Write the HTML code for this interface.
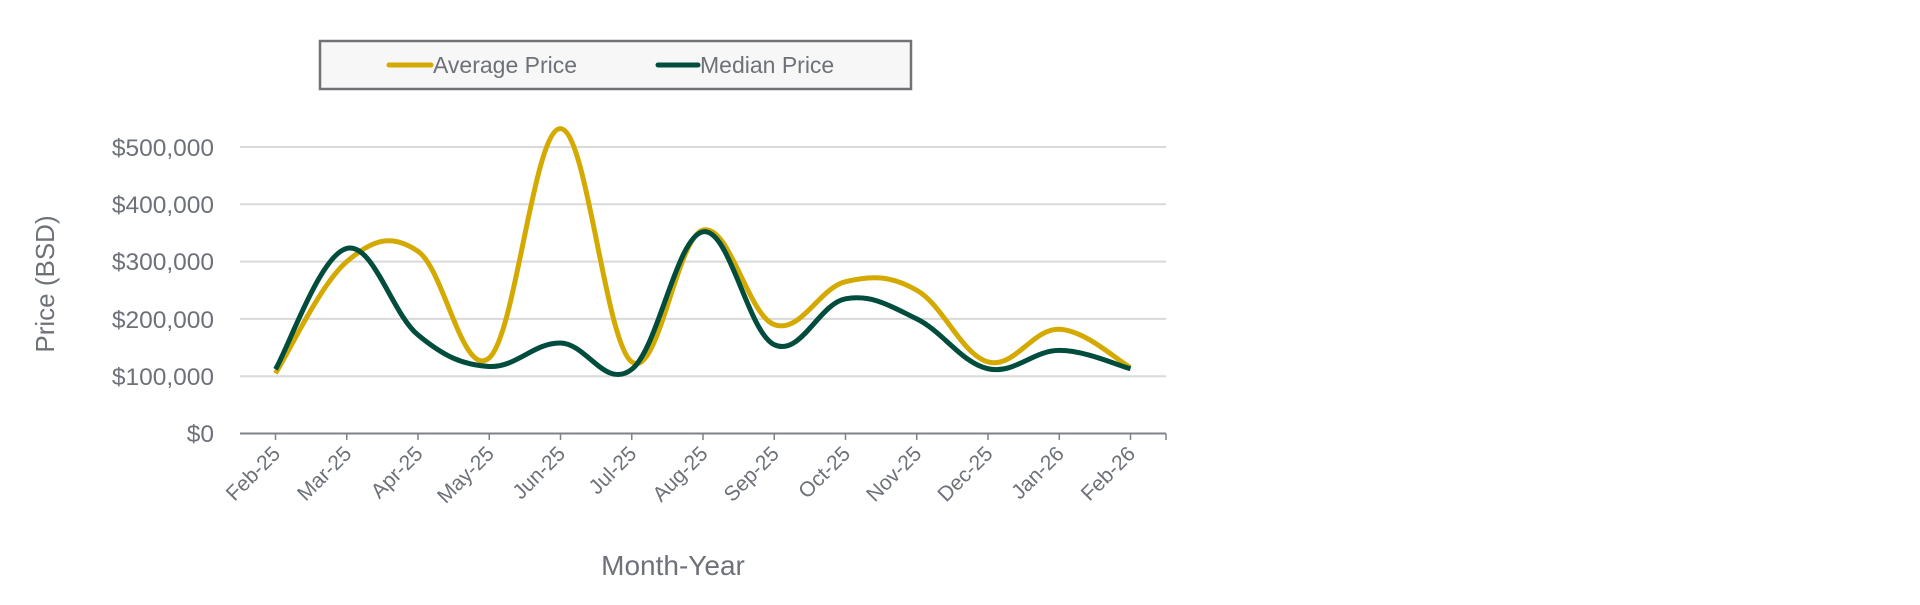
<!DOCTYPE html>
<html><head><meta charset="utf-8"><style>
html,body{margin:0;padding:0;background:#fff;width:1920px;height:605px;overflow:hidden}
svg text{font-family:"Liberation Sans",sans-serif;fill:#6d7178}
</style></head><body>
<svg id="s" width="1920" height="605" xmlns="http://www.w3.org/2000/svg">
<rect x="320" y="41" width="591" height="48" fill="#f7f7f7" stroke="#707276" stroke-width="2.5"/>
<line x1="389" y1="65" x2="431" y2="65" stroke="#d4a900" stroke-width="5" stroke-linecap="round"/>
<text x="433" y="73" font-size="23">Average Price</text>
<line x1="658" y1="65" x2="698" y2="65" stroke="#014d3d" stroke-width="5" stroke-linecap="round"/>
<text x="700" y="73" font-size="23">Median Price</text>
<g stroke="#d9d9d9" stroke-width="2">
<line x1="240" x2="1166" y1="147" y2="147"/>
<line x1="240" x2="1166" y1="204.3" y2="204.3"/>
<line x1="240" x2="1166" y1="261.6" y2="261.6"/>
<line x1="240" x2="1166" y1="318.9" y2="318.9"/>
<line x1="240" x2="1166" y1="376.2" y2="376.2"/>
</g>
<line x1="240" x2="1166" y1="433.5" y2="433.5" stroke="#7f8286" stroke-width="2"/>
<g font-size="24.5" text-anchor="end">
<text x="214" y="156">$500,000</text>
<text x="214" y="213">$400,000</text>
<text x="214" y="270">$300,000</text>
<text x="214" y="328">$200,000</text>
<text x="214" y="385">$100,000</text>
<text x="214" y="442">$0</text>
</g>
<text transform="translate(54,284) rotate(-90)" font-size="26" text-anchor="middle">Price (BSD)</text>
<text x="673" y="575" font-size="28" text-anchor="middle">Month-Year</text>
<g id="ticks"></g>
<g id="labels" font-size="21" text-anchor="end"></g>
<path id="avg" fill="none" stroke="#d4a900" stroke-width="5" stroke-linejoin="round"/>
<path id="med" fill="none" stroke="#014d3d" stroke-width="5" stroke-linejoin="round"/>
</svg>
<script>
var months=["Feb-25","Mar-25","Apr-25","May-25","Jun-25","Jul-25","Aug-25","Sep-25","Oct-25","Nov-25","Dec-25","Jan-26","Feb-26"];
var avg=[105,300,318,132,532,125,355,190,265,250,125,182,115];
var med=[112,323,172,117,158,112,352,155,235,200,113,145,113];
function X(i){return 275.5+i*71.25}
function Y(v){return 433.5-v*0.573}
var ns="http://www.w3.org/2000/svg",t=document.getElementById("ticks"),l=document.getElementById("labels");
for(var i=0;i<=13;i++){var x=i<13?X(i):1166;var ln=document.createElementNS(ns,"line");
ln.setAttribute("x1",x);ln.setAttribute("x2",x);ln.setAttribute("y1",433.5);ln.setAttribute("y2",440);
ln.setAttribute("stroke","#7f8286");ln.setAttribute("stroke-width","1.5");t.appendChild(ln);}
months.forEach(function(m,i){var tx=document.createElementNS(ns,"text");
tx.setAttribute("transform","translate("+(X(i)+6)+",455) rotate(-45)");tx.textContent=m;l.appendChild(tx);});
function path(d){var p=d.map(function(v,i){return[X(i),Y(v)]});var s="M"+p[0][0]+","+p[0][1];var k=0.185;
for(var i=0;i<p.length-1;i++){var p0=p[i-1]||p[i],p1=p[i],p2=p[i+1],p3=p[i+2]||p[i+1];
s+=" C"+(p1[0]+(p2[0]-p0[0])*k)+","+(p1[1]+(p2[1]-p0[1])*k)+" "+(p2[0]-(p3[0]-p1[0])*k)+","+(p2[1]-(p3[1]-p1[1])*k)+" "+p2[0]+","+p2[1];}
return s;}
document.getElementById("avg").setAttribute("d",path(avg));
document.getElementById("med").setAttribute("d",path(med));
</script>
</body></html>
